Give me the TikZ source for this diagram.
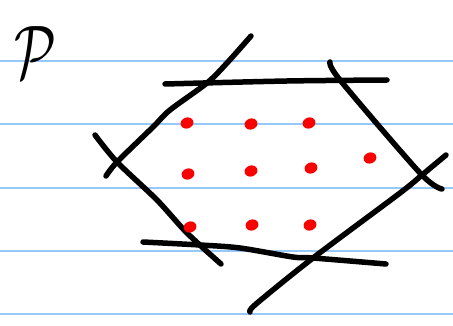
\documentclass[tikz,border=0pt]{standalone}
\definecolor{rule}{RGB}{150,200,250}
\definecolor{dotred}{RGB}{250,0,0}
\begin{document}
\begin{tikzpicture}[x=1pt, y=-1pt, line join=round, line cap=round]
\useasboundingbox (0,0) rectangle (453,326);
\fill[white] (0,0) rectangle (453,326);
% ruled paper
\foreach \y in {61,124.3,187.7,250.7,314}
  \draw[rule, line width=2] (0,\y)--(453,\y);
% letter
\node[xscale=5.4, yscale=7.6] (P) at (36,53) {$\mathcal{P}$};
% the six lines
\draw[line width=5.5] plot[smooth, tension=.5] coordinates {(251,36) (227,63) (207,83) (170,110) (153,127) (117,162) (106,176)};
\draw[line width=5.5] plot[smooth, tension=.5] coordinates {(165,84) (287,81) (387,80)};
\draw[line width=5.5] plot[smooth, tension=.5] coordinates {(330,62) (340,80) (420,173) (442,189)};
\draw[line width=5.5] plot[smooth, tension=.5] coordinates {(446,155) (422,175) (400,193) (313,258) (256,304) (250,312)};
\draw[line width=5.5] plot[smooth, tension=.5] coordinates {(143,242) (200,245) (240,248) (293,257) (313,258) (386,264)};
\draw[line width=5.5] plot[smooth, tension=.5] coordinates {(95,135) (117,162) (157,200) (187,233) (221,264)};
% points inside
\foreach \x/\y in {187/123, 251/124, 309/123, 188/174, 251/171, 311/168, 370/158, 190/227, 252/225, 310/225}
  \fill[dotred, rotate around={20:(\x,\y)}] (\x,\y) ellipse (6.5 and 5.5);
\end{tikzpicture}
\end{document}
